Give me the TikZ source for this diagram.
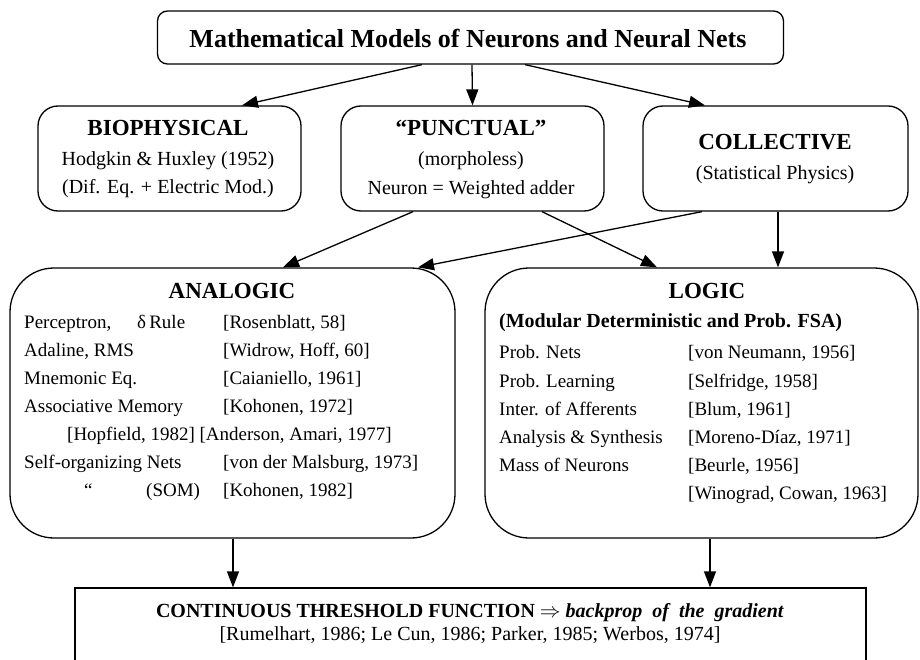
\documentclass[tikz,border=0pt]{standalone}
\usepackage{fontspec}
\setmainfont{Liberation Serif}
\usetikzlibrary{arrows.meta}

\tikzset{
  box/.style={draw, line width=1.3pt, inner sep=0pt},
  smallbox/.style={box, rounded corners=10pt},
  midbox/.style={box, rounded corners=20pt},
  bigbox/.style={box, rounded corners=44pt},
  arr/.style={line width=1.3pt, -{Triangle[length=16pt,width=12pt]}},
  lbl/.style={inner sep=0pt, anchor=base},
  lft/.style={inner sep=0pt, anchor=base west},
  head/.style={lbl, font=\fontsize{23}{27}\selectfont\bfseries},
  sub/.style={lbl, font=\fontsize{20}{24}\selectfont},
  item/.style={lft, font=\fontsize{19}{23}\selectfont},
}

\begin{document}
\begin{tikzpicture}[x=1pt, y=-1pt]
\useasboundingbox (0,0) rectangle (920,660);

% boxes
\node[smallbox, minimum width=626pt, minimum height=53pt] (top) at (470.5,37.5) {};
\node[midbox, minimum width=263pt, minimum height=105pt] (bio) at (169.5,158.5) {};
\node[midbox, minimum width=263pt, minimum height=105pt] (punct) at (472.5,158.5) {};
\node[midbox, minimum width=265pt, minimum height=105pt] (coll) at (775.5,158.5) {};
\node[bigbox, minimum width=445pt, minimum height=270pt] (analog) at (232.5,403) {};
\node[bigbox, minimum width=433pt, minimum height=270pt] (logic) at (701.5,403) {};
\node[box, minimum width=791pt, minimum height=92pt] (cont) at (470.5,634) {};

% title
\node[lbl, font=\fontsize{26}{30}\selectfont\bfseries] (ttl) at (468,48) {Mathematical Models of Neurons and Neural Nets};

% second row
\node[head] (bioA) at (168,136) {BIOPHYSICAL};
\node[sub]  (bioB) at (168,166) {Hodgkin \& Huxley (1952)};
\node[sub]  (bioC) at (168,194) {(Dif. Eq. + Electric Mod.)};

\node[head] (puA) at (471,136) {“PUNCTUAL”};
\node[sub]  (puB) at (471,166) {(morpholess)};
\node[sub]  (puC) at (471,195) {Neuron = Weighted adder};

\node[head] (coA) at (775,150) {COLLECTIVE};
\node[sub]  (coB) at (775,180) {(Statistical Physics)};

% analogic models
\node[head] (anT) at (232,298) {ANALOGIC};
\node[item] (an1) at (24,328) {Perceptron,};
\node[item] (an1d) at (137,328) {δ\,Rule};
\node[item] (an1r) at (223,328) {[Rosenblatt, 58]};
\node[item] (an2) at (24,356) {Adaline, RMS};
\node[item] (an2r) at (223,356) {[Widrow, Hoff, 60]};
\node[item] (an3) at (24,384) {Mnemonic Eq.};
\node[item] (an3r) at (223,384) {[Caianiello, 1961]};
\node[item] (an4) at (24,412) {Associative Memory};
\node[item] (an4r) at (223,412) {[Kohonen, 1972]};
\node[item] (an5) at (67,440) {[Hopfield, 1982] [Anderson, Amari, 1977]};
\node[item] (an6) at (24,468) {Self-organizing Nets};
\node[item] (an6r) at (223,468) {[von der Malsburg, 1973]};
\node[item] (an7) at (84,496) {“};
\node[item] (an7m) at (146,496) {(SOM)};
\node[item] (an7r) at (223,496) {[Kohonen, 1982]};

% logic models
\node[head] (loT) at (707,298) {LOGIC};
\node[lft, font=\fontsize{20}{24}\selectfont\bfseries] (loS) at (499,327) {(Modular Deterministic and Prob. FSA)};
\node[item] (lo1) at (499,358) {Prob. Nets};
\node[item] (lo1r) at (688,358) {[von Neumann, 1956]};
\node[item] (lo2) at (499,387) {Prob. Learning};
\node[item] (lo2r) at (688,387) {[Selfridge, 1958]};
\node[item] (lo3) at (499,415) {Inter. of Afferents};
\node[item] (lo3r) at (688,415) {[Blum, 1961]};
\node[item] (lo4) at (499,443) {Analysis \& Synthesis};
\node[item] (lo4r) at (688,443) {[Moreno-Díaz, 1971]};
\node[item] (lo5) at (499,471) {Mass of Neurons};
\node[item] (lo5r) at (688,471) {[Beurle, 1956]};
\node[item] (lo6r) at (688,499) {[Winograd, Cowan, 1963]};

% continuous threshold
\node[lbl, font=\fontsize{20}{24}\selectfont\bfseries] (ctA) at (470,617)
  {CONTINUOUS THRESHOLD FUNCTION $\Rightarrow$ \textit{backprop\ \ of\ \ the\ \ gradient}};
\node[sub] (ctB) at (470,640) {[Rumelhart, 1986; Le Cun, 1986; Parker, 1985; Werbos, 1974]};

% connectors
\draw[arr] ([xshift=-48.5pt]top.south) -- ([xshift=72.5pt]bio.north);
\draw[arr] ([xshift=1.5pt]top.south) -- (punct.north);
\draw[arr] ([xshift=54.5pt]top.south) -- ([xshift=-70.5pt]coll.north);
\draw[arr] ([xshift=-59.5pt]punct.south) -- ([xshift=50.5pt]analog.north);
\draw[arr] ([xshift=-73.5pt]coll.south) -- ([xshift=185.5pt]analog.north);
\draw[arr] ([xshift=69.5pt]punct.south) -- ([xshift=-44.5pt]logic.north);
\draw[arr] ([xshift=2.5pt]coll.south) -- ([xshift=76.5pt]logic.north);
\draw[arr] ([xshift=0.5pt]analog.south) -- ([xshift=-237.5pt]cont.north);
\draw[arr] ([xshift=8.5pt]logic.south) -- ([xshift=239.5pt]cont.north);
\end{tikzpicture}
\end{document}
